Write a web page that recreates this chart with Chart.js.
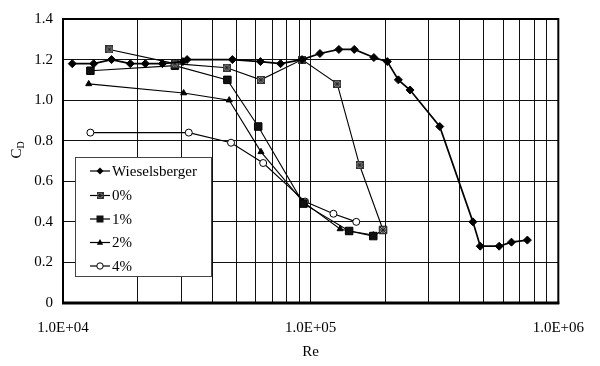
<!DOCTYPE html>
<html><head><meta charset="utf-8">
<script src="https://cdn.jsdelivr.net/npm/chart.js@4/dist/chart.umd.min.js"></script>
<style>html,body{margin:0;padding:0;background:#fff}#wrap{width:600px;height:366px}</style>
</head><body><div id="wrap"><canvas id="c" width="600" height="366"></canvas></div>
<script>
// ---- data ----
const seriesNames = ['Wieselsberger', '0%', '1%', '2%', '4%'];

const reWies = [1.09e4, 1.33e4, 1.57e4, 1.87e4, 2.15e4, 2.52e4, 3.05e4, 3.17e4, 4.83e4, 6.27e4, 7.56e4, 9.23e4, 1.09e5, 1.30e5, 1.50e5, 1.80e5, 2.04e5, 2.26e5, 2.52e5, 3.32e5, 4.52e5, 4.84e5, 5.77e5, 6.47e5, 7.50e5];
const cdWies = [1.18, 1.18, 1.20, 1.18, 1.18, 1.18, 1.19, 1.20, 1.20, 1.19, 1.18, 1.20, 1.23, 1.25, 1.25, 1.21, 1.19, 1.10, 1.05, 0.87, 0.40, 0.28, 0.28, 0.30, 0.31];

const re0 = [1.54e4, 2.83e4, 4.58e4, 6.29e4, 9.23e4, 1.28e5, 1.575e5, 1.96e5];
const cd0 = [1.25, 1.18, 1.16, 1.10, 1.20, 1.08, 0.68, 0.36];

const re1 = [1.29e4, 2.83e4, 4.61e4, 6.14e4, 9.35e4, 1.43e5, 1.79e5, 1.96e5];
const cd1 = [1.145, 1.17, 1.10, 0.87, 0.49, 0.355, 0.33, 0.36];

const re2 = [1.27e4, 3.07e4, 4.69e4, 6.30e4, 9.30e4, 1.315e5, 1.43e5, 1.79e5];
const cd2 = [1.08, 1.035, 1.00, 0.745, 0.50, 0.365, 0.355, 0.335];

const re4 = [1.29e4, 3.22e4, 4.77e4, 6.43e4, 9.49e4, 1.236e5, 1.528e5];
const cd4 = [0.84, 0.84, 0.79, 0.69, 0.50, 0.44, 0.40];

const xGridValues = [1e4, 2e4, 3e4, 4e4, 5e4, 6e4, 7e4, 8e4, 9e4, 1e5, 2e5, 3e5, 4e5, 5e5, 6e5, 7e5, 8e5, 9e5, 1e6];
const xLabelValues = [1e4, 1e5, 1e6];
const xLabelTexts = ['1.0E+04', '1.0E+05', '1.0E+06'];
const yTitleMain = 'C';
const yTitleSub = 'D';
const xTitle = 'Re';

// ---- styling ----
const SERIF = '"Liberation Serif", "Times New Roman", serif';

function makeStarSquare(size) {
  const c = document.createElement('canvas');
  c.width = size; c.height = size;
  const g = c.getContext('2d');
  g.fillStyle = '#9a9a9a';
  g.fillRect(0, 0, size, size);
  g.strokeStyle = '#222';
  g.lineWidth = 1;
  g.beginPath();
  g.moveTo(0, 0); g.lineTo(size, size);
  g.moveTo(size, 0); g.lineTo(0, size);
  g.moveTo(size / 2, 0); g.lineTo(size / 2, size);
  g.moveTo(0, size / 2); g.lineTo(size, size / 2);
  g.stroke();
  g.strokeStyle = '#333';
  g.strokeRect(0.5, 0.5, size - 1, size - 1);
  return c;
}
const starImg = makeStarSquare(8);
const starImgLegend = makeStarSquare(7);

function pts(xs, ys) { return xs.map((x, i) => ({ x: x, y: ys[i] })); }

const datasets = [
  { label: seriesNames[0], data: pts(reWies, cdWies), borderColor: '#000', borderWidth: 1.7,
    pointStyle: 'rectRot', pointRadius: 4, pointBackgroundColor: '#000', pointBorderColor: '#000', pointBorderWidth: 1 },
  { label: seriesNames[1], data: pts(re0, cd0), borderColor: '#000', borderWidth: 1.1,
    pointStyle: starImg, pointRadius: 4 },
  { label: seriesNames[2], data: pts(re1, cd1), borderColor: '#000', borderWidth: 1.1,
    pointStyle: 'rect', pointRadius: 5.3, pointBackgroundColor: '#111', pointBorderColor: '#000', pointBorderWidth: 1 },
  { label: seriesNames[3], data: pts(re2, cd2), borderColor: '#000', borderWidth: 1.1,
    pointStyle: 'triangle', pointRadius: 3.5, pointBackgroundColor: '#000', pointBorderColor: '#000', pointBorderWidth: 1 },
  { label: seriesNames[4], data: pts(re4, cd4), borderColor: '#000', borderWidth: 1.1,
    pointStyle: 'circle', pointRadius: 3.5, pointBackgroundColor: '#fff', pointBorderColor: '#000', pointBorderWidth: 1 }
];

function drawMarker(ctx, idx, x, y) {
  ctx.save();
  ctx.fillStyle = '#000'; ctx.strokeStyle = '#000'; ctx.lineWidth = 1;
  ctx.beginPath();
  if (idx === 0) {
    ctx.moveTo(x, y - 3.5); ctx.lineTo(x + 3.5, y); ctx.lineTo(x, y + 3.5); ctx.lineTo(x - 3.5, y); ctx.closePath(); ctx.fill();
  } else if (idx === 1) {
    ctx.drawImage(starImgLegend, x - 3.5, y - 3.5);
  } else if (idx === 2) {
    ctx.fillStyle = '#111'; ctx.fillRect(x - 3.5, y - 3.5, 7, 7);
  } else if (idx === 3) {
    ctx.moveTo(x, y - 3.5); ctx.lineTo(x + 3.2, y + 2.2); ctx.lineTo(x - 3.2, y + 2.2); ctx.closePath(); ctx.fill();
  } else {
    ctx.fillStyle = '#fff'; ctx.arc(x, y, 3.2, 0, Math.PI * 2); ctx.fill(); ctx.stroke();
  }
  ctx.restore();
}

const decorPlugin = {
  id: 'decor',
  afterDraw(chart) {
    const ctx = chart.ctx;
    const a = chart.chartArea;
    ctx.save();
    // plot frame
    ctx.strokeStyle = '#000';
    ctx.lineWidth = 2;
    ctx.strokeRect(a.left, a.top, a.right - a.left, a.bottom - a.top);
    ctx.lineWidth = 3;
    ctx.beginPath(); ctx.moveTo(a.left - 1, a.bottom); ctx.lineTo(a.right + 1, a.bottom); ctx.stroke();

    // legend box
    const lx = 75.5, ly = 157.5, lw = 136, lh = 119;
    ctx.fillStyle = '#fff';
    ctx.fillRect(lx, ly, lw, lh);
    ctx.lineWidth = 1; ctx.strokeStyle = '#444';
    ctx.strokeRect(lx, ly, lw, lh);
    const rows = [171, 195.5, 219, 242.5, 266];
    ctx.font = '15px ' + SERIF;
    ctx.textBaseline = 'middle'; ctx.textAlign = 'left';
    seriesNames.forEach((name, i) => {
      const y = rows[i];
      ctx.strokeStyle = '#000'; ctx.lineWidth = 1.2;
      ctx.beginPath(); ctx.moveTo(90, y); ctx.lineTo(110, y); ctx.stroke();
      drawMarker(ctx, i, 100, y);
      ctx.fillStyle = '#000';
      ctx.fillText(name, 112, y + 1);
    });

    // y title C_D
    ctx.translate(17, 150);
    ctx.rotate(-Math.PI / 2);
    ctx.fillStyle = '#000';
    ctx.font = '15px ' + SERIF;
    const w1 = ctx.measureText(yTitleMain).width;
    ctx.font = '10px ' + SERIF;
    const w2 = ctx.measureText(yTitleSub).width;
    const sx = -(w1 + w2) / 2;
    ctx.font = '15px ' + SERIF;
    ctx.fillText(yTitleMain, sx, 0);
    ctx.font = '10px ' + SERIF;
    ctx.fillText(yTitleSub, sx + w1, 4);
    ctx.restore();
  }
};

new Chart(document.getElementById('c'), {
  type: 'line',
  data: { datasets: datasets },
  plugins: [decorPlugin],
  options: {
    responsive: false,
    animation: false,
    devicePixelRatio: 1,
    layout: { padding: { top: 12, right: 37, left: 0, bottom: 0 } },
    plugins: { legend: { display: false }, tooltip: { enabled: false } },
    elements: { line: { tension: 0, fill: false } },
    scales: {
      x: {
        type: 'logarithmic', min: 1e4, max: 1e6,
        afterBuildTicks: (s) => { s.ticks = xGridValues.map(v => ({ value: v })); },
        afterFit: (s) => { s.height = 63; },
        grid: { color: '#111', lineWidth: 1, drawTicks: false },
        border: { color: '#000', width: 2 },
        ticks: {
          autoSkip: false, maxRotation: 0, minRotation: 0, padding: 16, color: '#000',
          font: { family: SERIF, size: 15 },
          callback: (v) => { const i = xLabelValues.indexOf(v); return i >= 0 ? xLabelTexts[i] : ''; }
        },
        title: { display: true, text: xTitle, color: '#000', font: { family: SERIF, size: 15 }, padding: { top: 0, bottom: 5 } }
      },
      y: {
        min: 0, max: 1.4,
        afterFit: (s) => { s.width = 63; },
        grid: { color: '#111', lineWidth: 1, drawTicks: false },
        border: { color: '#000', width: 2 },
        ticks: { stepSize: 0.2, padding: 10, color: '#000', font: { family: SERIF, size: 15 } }
      }
    }
  }
});
</script>
</body></html>
